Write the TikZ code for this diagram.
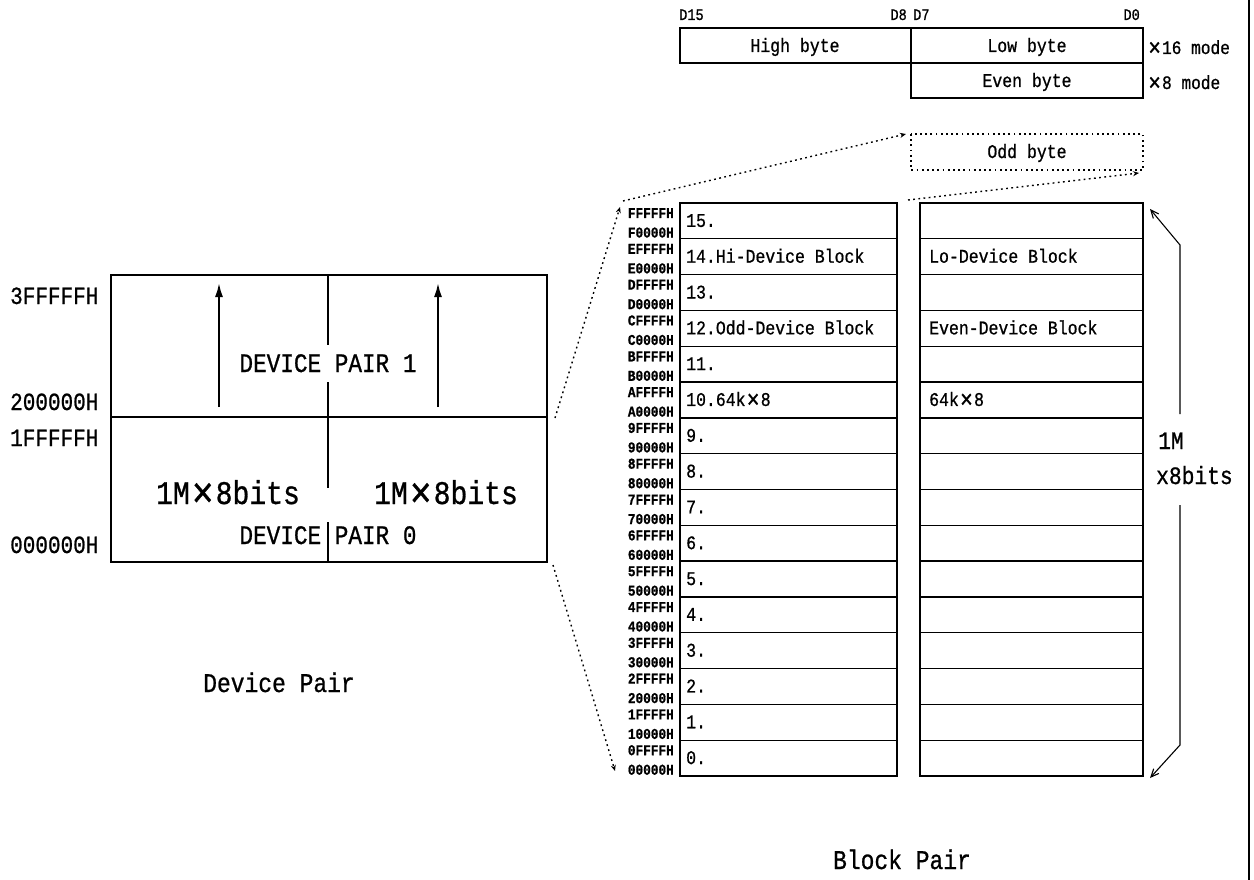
\documentclass[tikz,border=0pt]{standalone}
\usepackage{fontspec}
\setmainfont{Liberation Serif}
\newfontfamily\mono[FakeStretch=0.85,FakeBold=0.8]{Liberation Mono}
\usetikzlibrary{arrows.meta}
\newcommand\setfs[1]{\fontsize{#1}{#1}\selectfont}
\newcommand\bigx{\hspace{0.06em}\raisebox{-0.09em}{\scalebox{1.3}{×}}\hspace{0.06em}}
\begin{document}
\begin{tikzpicture}[x=1pt,y=-1pt,
  lbl/.style={inner sep=0pt,anchor=base west},
  lblc/.style={inner sep=0pt,anchor=base},
  lble/.style={inner sep=0pt,anchor=base east},
  thickbox/.style={draw,line width=1.8pt},
  rowline/.style={line width=1.3pt},
  dotline/.style={line width=1.4pt,dash pattern=on 1.8pt off 3.4pt},
  dotarrow/.style={dotline,-{Stealth[length=6pt,width=5pt]}},
  uparrow/.style={line width=2pt,-{Latex[length=14pt,width=8pt]}},
  bracearrow/.style={line width=1.1pt,-{Straight Barb[length=8pt,width=7pt]}},
  fD/.style={font=\mono\setfs{16}},
  fByte/.style={font=\mono\setfs{19.4}},
  fMode/.style={font=\mono\setfs{19}},
  fBig/.style={font=\mono\setfs{26.7}},
  fAddrL/.style={font=\mono\setfs{24.7}},
  fHuge/.style={font=\mono\setfs{33}},
  fCap/.style={font=\mono\setfs{27}},
  fAddr/.style={font=\mono\bfseries\setfs{15}},
  fRow/.style={font=\mono\setfs{19.4}},
  fSide/.style={font=\mono\setfs{25}}
]
\useasboundingbox (0,0) rectangle (1254,880);

% ---------------- frame line at right
\coordinate (frT) at (1249,0);
\coordinate (frB) at (1249,880);
\draw[line width=1.2pt] (frT) -- (frB);

% ---------------- top bit layout
\node[lbl,fD] (d15) at (679,20) {D15};
\node[lble,fD] (d8) at (907,20) {D8};
\node[lbl,fD] (d7) at (913,20) {D7};
\node[lble,fD] (d0) at (1140,20) {D0};
\draw[thickbox,line width=1.5pt] (680,28) rectangle (911,63);
\draw[thickbox,line width=1.5pt] (911,28) rectangle (1143,63);
\draw[thickbox,line width=1.5pt] (911,63) rectangle (1143,98);
\node[lblc,fByte] (hb) at (795,52) {High byte};
\node[lblc,fByte] (lb) at (1027,52) {Low byte};
\node[lblc,fByte] (eb) at (1027,87) {Even byte};
\node[lbl,fMode] (m16) at (1147,54) {\bigx16 mode};
\node[lbl,fMode] (m8) at (1147,89) {\bigx8 mode};
\draw[dotline] (911,134) rectangle (1143,170);
\node[lblc,fByte] (ob) at (1027,158) {Odd byte};
\coordinate (oddTL) at (906,134);
\coordinate (oddBR) at (1139,173);

% ---------------- device pair
\draw[thickbox] (111,275) rectangle (547,562);
\draw[rowline] (111,417) -- (547,417);
\draw[line width=1.1pt] (328,275) -- (328,345);
\draw[line width=1.1pt] (328,382) -- (328,488);
\draw[line width=1.1pt] (328,522) -- (328,562);
\coordinate (a1s) at (219,407); \coordinate (a1e) at (219,283);
\coordinate (a2s) at (438,407); \coordinate (a2e) at (438,283);
\draw[uparrow] (a1s) -- (a1e);
\draw[uparrow] (a2s) -- (a2e);
\node[lblc,fBig] (dp1) at (328,372) {DEVICE PAIR 1};
\node[lblc,fBig] (dp0) at (328,544) {DEVICE PAIR 0};
\node[lbl,fHuge] (m1) at (156,504) {1M\bigx 8bits};
\node[lbl,fHuge] (m2) at (374,504) {1M\bigx 8bits};
\node[lbl,fAddrL] (ad3) at (10,304) {3FFFFFH};
\node[lbl,fAddrL] (ad2) at (10,410) {200000H};
\node[lbl,fAddrL] (ad1) at (10,446) {1FFFFFH};
\node[lbl,fAddrL] (ad0) at (10,553) {000000H};
\node[lblc,fCap] (devp) at (279,692) {Device Pair};

% ---------------- block pair columns
\pgfmathsetmacro{\rh}{35.8125}
\foreach \i/\h/\t/\u in {0/F/15./,1/E/14.Hi-Device Block/Lo-Device Block,2/D/13./,3/C/12.Odd-Device Block/Even-Device Block,4/B/11./,5/A/10.64k\bigx 8/64k\bigx 8,6/9/9./,7/8/8./,8/7/7./,9/6/6./,10/5/5./,11/4/4./,12/3/3./,13/2/2./,14/1/1./,15/0/0./}{
  \pgfmathsetmacro{\yt}{203+\i*\rh}
  \pgfmathsetmacro{\yc}{\yt+\rh/2+6}
  \pgfmathsetmacro{\yu}{\yt+15}
  \pgfmathsetmacro{\yl}{\yt+34.5}
  \node[lble,fAddr] (au\i) at (674,\yu) {\h FFFFH};
  \node[lble,fAddr] (al\i) at (674,\yl) {\h 0000H};
  \node[lbl,fRow] (rl\i) at (686,\yc) {\t};
  \node[lbl,fRow] (rr\i) at (929,\yc) {\u};
  \ifnum\i>0
    \draw[rowline] (680,\yt) -- (897,\yt);
    \draw[rowline] (920,\yt) -- (1143,\yt);
  \fi
}
\draw[thickbox,line width=2.2pt] (680,203) rectangle (897,776);
\draw[thickbox,line width=2.2pt] (920,203) rectangle (1143,776);

% bracket 1M x8bits
\coordinate (brT) at (1150,209);
\coordinate (brE1) at (1180,245);
\coordinate (brG1) at (1180,414);
\coordinate (brG2) at (1180,505);
\coordinate (brE2) at (1180,745);
\coordinate (brB) at (1150,778);
\draw[bracearrow] (brG1) -- (brE1) -- (brT);
\draw[bracearrow] (brG2) -- (brE2) -- (brB);
\node[lbl,fSide] (oneM) at (1158,449) {1M};
\node[lbl,fSide] (x8b) at (1156,484) {x8bits};

\node[lblc,fCap] (blkp) at (902,869) {Block Pair};

% ---------------- dotted zoom lines
\coordinate (dpR1) at (555,418);
\coordinate (bTopA) at (620,207);
\coordinate (bTopB) at (623,201);
\coordinate (bTopC) at (908,200);
\coordinate (dpR0) at (553,565);
\coordinate (bBot) at (615,771);
\draw[dotarrow] (dpR1) -- (bTopA);
\draw[dotarrow] (bTopB) -- (oddTL);
\draw[dotarrow] (bTopC) -- (oddBR);
\draw[dotarrow] (dpR0) -- (bBot);
\end{tikzpicture}
\end{document}
